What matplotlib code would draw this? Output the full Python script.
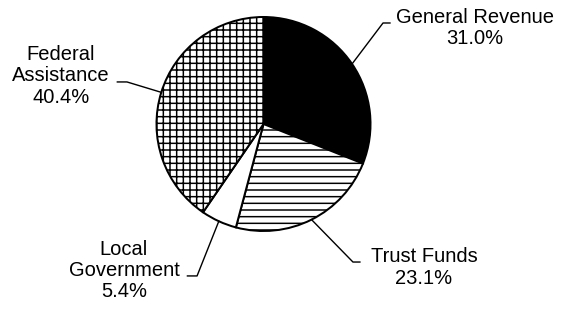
import numpy as np
import matplotlib
matplotlib.use("Agg")
import matplotlib.pyplot as plt

# ==========================================
# 資料
# ==========================================
labels = ["General Revenue", "Trust Funds", "Local\nGovernment", "Federal\nAssistance"]
shares = [31.0, 23.1, 5.4, 40.4]
colors = ["black", "white", "white", "white"]
hatches = [None, "---", None, "+++"]

# 標籤位置 (以半徑為單位) 與引線轉折點
text_pos = [(1.977, 0.90), (1.50, -1.34), (-1.304, -1.37), (-1.893, 0.45)]
elbow_pos = [(1.117, 0.944), (0.836, -1.29), (-0.621, -1.42), (-1.276, 0.393)]
tail_len = [0.065, 0.065, -0.09, -0.09]

DPI = 120  # 用較高 dpi 讓 hatch 間距接近原圖
pt = 72.0 / DPI  # 1 px 對應的 pt

plt.rcParams['font.family'] = ['Liberation Sans', 'DejaVu Sans']
plt.rcParams['hatch.linewidth'] = 1.5 * pt

fig = plt.figure(figsize=(564 / DPI, 309 / DPI), dpi=DPI)
cx, cy, r = 263.5, 124, 107
ax = fig.add_axes([(cx - r) / 564, (309 - cy - r) / 309, 2 * r / 564, 2 * r / 309])

wedges, _ = ax.pie(shares, colors=colors, startangle=90, counterclock=False,
                   wedgeprops=dict(edgecolor="black", linewidth=2.0 * pt))
for w, h in zip(wedges, hatches):
    if h:
        w.set_hatch(h)

ax.set_xlim(-1, 1)
ax.set_ylim(-1, 1)
ax.set_aspect("auto")
ax.axis("off")

for w, lab, val, tp, ep, tl in zip(wedges, labels, shares, text_pos, elbow_pos, tail_len):
    mid = np.deg2rad((w.theta1 + w.theta2) / 2)
    x0, y0 = np.cos(mid), np.sin(mid)
    ax.plot([x0, ep[0], ep[0] + tl], [y0, ep[1], ep[1]], color="black",
            linewidth=1.4 * pt, clip_on=False)
    ax.text(tp[0], tp[1], f"{lab}\n{val:.1f}%", ha="center", va="center",
            multialignment="center", fontsize=20.2 * pt, linespacing=1.15)

fig.savefig("out.png", dpi=DPI)
